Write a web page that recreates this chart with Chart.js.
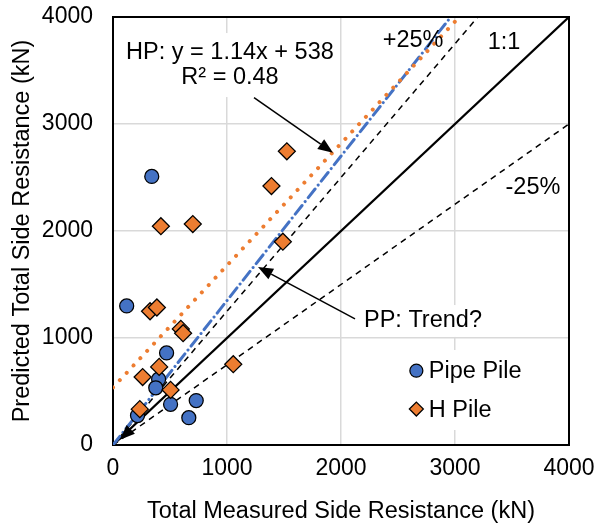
<!DOCTYPE html>
<html>
<head>
<meta charset="utf-8">
<script src="https://cdn.jsdelivr.net/npm/chart.js@4.4.1/dist/chart.umd.min.js"></script>
<style>
  html, body { margin: 0; padding: 0; background: #fff; }
  canvas { display: block; }
</style>
</head>
<body>
<canvas id="sideChart" width="597" height="523"></canvas>
<script>
// ============ Data ============
const AXIS_MAX = 4000;
const TICK_STEP = 1000;

// Pipe piles: measured (x) vs predicted (y) side resistance, kN
const pipeMeasured  = [340, 120, 470, 400, 375, 730, 505, 215, 665];
const pipePredicted = [2510, 1300, 860, 615, 535, 415, 380, 275, 255];

// H piles
const hMeasured  = [1525, 1390, 420, 700, 1490, 325, 385, 595, 615, 405, 260, 1055, 505, 235];
const hPredicted = [2745, 2420, 2045, 2065, 1900, 1250, 1285, 1085, 1045, 730, 635, 755, 515, 335];

// Trend lines
const hpSlope = 1.14, hpIntercept = 538;
const ppSlope = 1.35, ppIntercept = 0;

// ============ Style ============
const FONT = '"Liberation Sans", Arial, sans-serif';
const BLUE = '#4472C4';
const ORANGE = '#ED7D31';
const GRID = '#d9d9d9';

const toPoints = (xs, ys) => xs.map((x, i) => ({ x, y: ys[i] }));

// straight line y = m*x + b clipped to the plot square
const lineSeg = (m, b) => {
    const xEnd = Math.min(AXIS_MAX, (AXIS_MAX - b) / m);
    return [{ x: 0, y: b }, { x: xEnd, y: m * xEnd + b }];
};

// ============ Notes (data coordinates) ============
const NOTE_BOXES = [
    { x0: 44, x1: 1974, y0: 3850, y1: 3252 },
    { x0: 2167, x1: 3272, y0: 1308, y1: 1010 },
    { x0: 2561, x1: 3965, y0: 888, y1: 140 }
];
const NOTE_TEXTS = [
    { text: 'HP: y = 1.14x + 538', x: 1026, y: 3664 },
    { text: 'R\u00b2 = 0.48', x: 1026, y: 3430 },
    { text: '+25%', x: 2632, y: 3782 },
    { text: '1:1', x: 3430, y: 3757 },
    { text: '-25%', x: 3684, y: 2402 },
    { text: 'PP: Trend?', x: 2719, y: 1168 }
];
const NOTE_ARROWS = [
    { from: [1237, 3246], to: [1930, 2732] },
    { from: [2123, 1178], to: [1272, 1664] },
    { from: [130, 120], to: [60, 50] }
];
const LEGEND_ITEMS = [
    { label: 'Pipe Pile', style: 'circle', color: BLUE, x: 2661, y: 694 },
    { label: 'H Pile', style: 'rectRot', color: ORANGE, x: 2661, y: 336 }
];

// ============ Plugin ============
function drawArrow(ctx, x0, y0, x1, y1) {
    const ang = Math.atan2(y1 - y0, x1 - x0);
    const len = 15, half = 6;
    const bx = x1 - Math.cos(ang) * len, by = y1 - Math.sin(ang) * len;
    ctx.beginPath();
    ctx.moveTo(x0, y0);
    ctx.lineTo(bx, by);
    ctx.stroke();
    ctx.beginPath();
    ctx.moveTo(x1, y1);
    ctx.lineTo(bx - Math.sin(ang) * half, by + Math.cos(ang) * half);
    ctx.lineTo(bx + Math.sin(ang) * half, by - Math.cos(ang) * half);
    ctx.closePath();
    ctx.fill();
}

const notesPlugin = {
    id: 'pileNotes',
    beforeDatasetsDraw(chart) {
        const { ctx, chartArea: a, scales: { x, y } } = chart;
        ctx.save();
        ctx.fillStyle = '#fff';
        NOTE_BOXES.forEach(b => {
            const px0 = x.getPixelForValue(b.x0), px1 = x.getPixelForValue(b.x1);
            const py0 = y.getPixelForValue(b.y0), py1 = y.getPixelForValue(b.y1);
            ctx.fillRect(px0, py0, px1 - px0, py1 - py0);
        });
        ctx.strokeStyle = '#000';
        ctx.lineWidth = 2;
        ctx.strokeRect(a.left, a.top, a.width, a.height);
        ctx.restore();
    },
    afterDatasetsDraw(chart) {
        const { ctx, scales: { x, y } } = chart;
        ctx.save();
        ctx.fillStyle = '#000';
        ctx.strokeStyle = '#000';
        ctx.lineWidth = 1.5;
        NOTE_ARROWS.forEach(ar => {
            drawArrow(ctx,
                x.getPixelForValue(ar.from[0]), y.getPixelForValue(ar.from[1]),
                x.getPixelForValue(ar.to[0]), y.getPixelForValue(ar.to[1]));
        });

        ctx.font = `23.5px ${FONT}`;
        ctx.textAlign = 'center';
        ctx.textBaseline = 'middle';
        NOTE_TEXTS.forEach(t => {
            ctx.fillText(t.text, x.getPixelForValue(t.x), y.getPixelForValue(t.y));
        });

        // legend
        ctx.textAlign = 'left';
        LEGEND_ITEMS.forEach(item => {
            const px = x.getPixelForValue(item.x), py = y.getPixelForValue(item.y);
            ctx.fillStyle = item.color;
            ctx.strokeStyle = '#000';
            ctx.lineWidth = 1.25;
            Chart.helpers.drawPoint(ctx, {
                pointStyle: item.style,
                radius: item.style === 'circle' ? 6.5 : 7,
                borderWidth: 1.25
            }, px, py);
            ctx.fillStyle = '#000';
            ctx.fillText(item.label, px + 12.5, py + 1);
        });
        ctx.restore();
    }
};

// ============ Chart ============
const lineSet = (data, color, width, dash, cap) => ({
    data,
    showLine: true,
    borderColor: color,
    borderWidth: width,
    borderDash: dash,
    borderCapStyle: cap || 'butt',
    pointRadius: 0,
    pointHoverRadius: 0,
    fill: false
});

const plainTick = (v) => String(v);

new Chart(document.getElementById('sideChart'), {
    type: 'scatter',
    data: {
        datasets: [
            {
                label: 'H Pile',
                data: toPoints(hMeasured, hPredicted),
                pointStyle: 'rectRot',
                pointRadius: 8.5,
                backgroundColor: ORANGE,
                borderColor: '#000',
                borderWidth: 1.25
            },
            {
                label: 'Pipe Pile',
                data: toPoints(pipeMeasured, pipePredicted),
                pointStyle: 'circle',
                pointRadius: 7,
                backgroundColor: BLUE,
                borderColor: '#000',
                borderWidth: 1.25
            },
            lineSet(lineSeg(hpSlope, hpIntercept), ORANGE, 4, [0.01, 10], 'round'),
            lineSet(lineSeg(ppSlope, ppIntercept), BLUE, 3, [11, 5, 0.01, 5], 'round'),
            lineSet(lineSeg(1, 0), '#000', 2.25, []),
            lineSet(lineSeg(1.25, 0), '#000', 1.5, [6, 5]),
            lineSet(lineSeg(0.75, 0), '#000', 1.5, [6, 5])
        ]
    },
    options: {
        responsive: false,
        animation: false,
        layout: { padding: { left: 0, top: 17, right: 28, bottom: 0 } },
        plugins: {
            legend: { display: false },
            tooltip: { enabled: false }
        },
        scales: {
            x: {
                type: 'linear',
                min: 0,
                max: AXIS_MAX,
                ticks: { stepSize: TICK_STEP, color: '#000', font: { family: FONT, size: 23 }, padding: 0, maxRotation: 0, callback: plainTick },
                grid: { color: GRID, lineWidth: 1.5, drawTicks: true, tickLength: 10, tickColor: 'transparent' },
                border: { display: false },
                title: {
                    display: true,
                    text: 'Total Measured Side Resistance (kN)',
                    color: '#000',
                    font: { family: FONT, size: 23.5, lineHeight: 1 },
                    padding: { top: 0, bottom: 0 }
                },
                afterFit: (axis) => { axis.height = 78; }
            },
            y: {
                type: 'linear',
                min: 0,
                max: AXIS_MAX,
                ticks: { stepSize: TICK_STEP, color: '#000', font: { family: FONT, size: 23 }, padding: 0, callback: plainTick },
                grid: { color: GRID, lineWidth: 1.5, drawTicks: true, tickLength: 20, tickColor: 'transparent' },
                border: { display: false },
                title: {
                    display: true,
                    text: 'Predicted Total Side Resistance (kN)',
                    color: '#000',
                    font: { family: FONT, size: 23.5, lineHeight: 1 },
                    padding: { top: 10.5, bottom: 0 }
                },
                afterFit: (axis) => { axis.width = 113; }
            }
        }
    },
    plugins: [notesPlugin]
});
</script>
</body>
</html>
